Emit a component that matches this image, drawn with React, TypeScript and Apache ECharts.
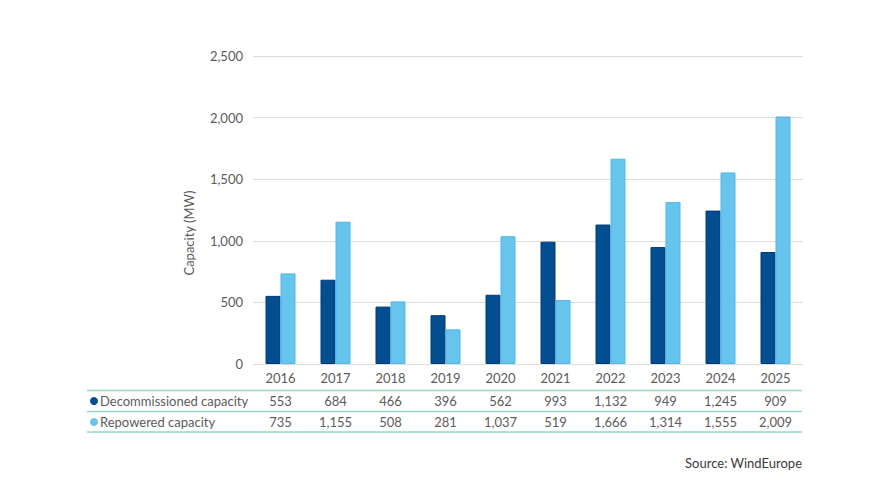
import React, { useEffect, useRef } from 'react';
import * as echarts from 'echarts';

const years = ['2016', '2017', '2018', '2019', '2020', '2021', '2022', '2023', '2024', '2025'];
const decommissioned = [553, 684, 466, 396, 562, 993, 1132, 949, 1245, 909];
const repowered = [735, 1155, 508, 281, 1037, 519, 1666, 1314, 1555, 2009];

const DARK = '#034d91';
const LIGHT = '#67c4ec';
const TEXT = '#5b5b5b';
const FONT = 'Lato, "Open Sans", sans-serif';
const LINE_GREEN = '#93dbbb';

const fmt = (v: number) => v.toLocaleString('en-US');

const App: React.FC = () => {
  const chartRef = useRef<HTMLDivElement | null>(null);

  useEffect(() => {
    if (!chartRef.current) return;
    const chart = echarts.init(chartRef.current, null, { renderer: 'svg' });

    const tableAxis = (values: number[], offset: number) => ({
      type: 'category' as const,
      gridIndex: 0,
      position: 'bottom' as const,
      offset,
      data: values.map(fmt),
      axisLine: { show: false },
      axisTick: { show: false },
      axisLabel: { color: TEXT, fontSize: 13, fontFamily: FONT, margin: 7, interval: 0 },
    });

    const option: echarts.EChartsOption = {
      animation: false,
      grid: { left: 253, width: 550, top: 56, height: 308 },
      xAxis: [
        {
          type: 'category',
          data: years,
          axisLine: { show: false },
          axisTick: { show: false },
          axisLabel: { color: TEXT, fontSize: 13, fontFamily: FONT, margin: 7, interval: 0 },
        },
        tableAxis(decommissioned, 23),
        tableAxis(repowered, 44),
      ],
      yAxis: {
        type: 'value',
        min: 0,
        max: 2500,
        interval: 500,
        axisLine: { show: false },
        axisTick: { show: false },
        axisLabel: {
          color: TEXT,
          fontSize: 13,
          fontFamily: FONT,
          margin: 10,
          formatter: (v: number) => fmt(v),
        },
        splitLine: { lineStyle: { color: '#dedede', width: 1 } },
      },
      series: [
        {
          name: 'Decommissioned capacity',
          type: 'bar',
          data: decommissioned,
          barWidth: 15,
          barGap: '0%',
          itemStyle: { color: DARK, borderColor: '#023a78', borderWidth: 1 },
        },
        {
          name: 'Repowered capacity',
          type: 'bar',
          data: repowered,
          barWidth: 15,
          itemStyle: { color: LIGHT, borderColor: '#4fb8e8', borderWidth: 1 },
        },
      ],
      graphic: [
        {
          type: 'text',
          x: 189,
          y: 233,
          rotation: Math.PI / 2,
          style: {
            text: 'Capacity (MW)',
            fill: TEXT,
            font: `13px ${FONT}`,
            align: 'center',
            verticalAlign: 'middle',
          },
        },
        { type: 'line', shape: { x1: 87, y1: 390.5, x2: 802, y2: 390.5 }, style: { stroke: LINE_GREEN, lineWidth: 1.5 } },
        { type: 'line', shape: { x1: 87, y1: 411.5, x2: 802, y2: 411.5 }, style: { stroke: LINE_GREEN, lineWidth: 1.5 } },
        { type: 'line', shape: { x1: 87, y1: 432, x2: 802, y2: 432 }, style: { stroke: LINE_GREEN, lineWidth: 1.5 } },
        { type: 'circle', shape: { cx: 94, cy: 401, r: 4 }, style: { fill: DARK } },
        { type: 'circle', shape: { cx: 94, cy: 422, r: 4 }, style: { fill: LIGHT } },
        {
          type: 'text',
          x: 100,
          y: 401,
          style: { text: 'Decommissioned capacity', fill: TEXT, font: `13px ${FONT}`, verticalAlign: 'middle' },
        },
        {
          type: 'text',
          x: 100,
          y: 422,
          style: { text: 'Repowered capacity', fill: TEXT, font: `13px ${FONT}`, verticalAlign: 'middle' },
        },
        {
          type: 'text',
          x: 802,
          y: 463,
          style: {
            text: 'Source: WindEurope',
            fill: '#3a3a3a',
            font: `13px ${FONT}`,
            align: 'right',
            verticalAlign: 'middle',
          },
        },
      ],
    };

    chart.setOption(option);
    return () => {
      chart.dispose();
    };
  }, []);

  return (
    <div
      ref={chartRef}
      style={{ position: 'fixed', left: 0, top: 0, width: 875, height: 500, background: '#fff' }}
    />
  );
};

export default App;
